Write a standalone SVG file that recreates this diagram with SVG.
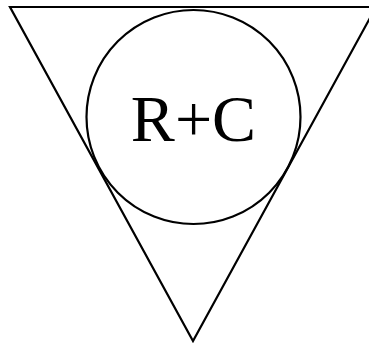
<svg xmlns="http://www.w3.org/2000/svg" width="369" height="343" viewBox="0 0 369 343">
<style>
.s{fill:none;stroke:#000;stroke-width:2.2}
.t{font-family:"Liberation Serif",serif;font-size:66px;fill:#000;text-anchor:middle}
</style>
<rect width="369" height="343" fill="#fff"/>
<g id="triangle"><polygon class="s" points="10,7 376,7 193,341"/></g>
<g id="circle"><circle class="s" cx="193.5" cy="117" r="107"/><text class="t" x="193.5" y="141">R+C</text></g>
<g id="connectors"/>
</svg>
